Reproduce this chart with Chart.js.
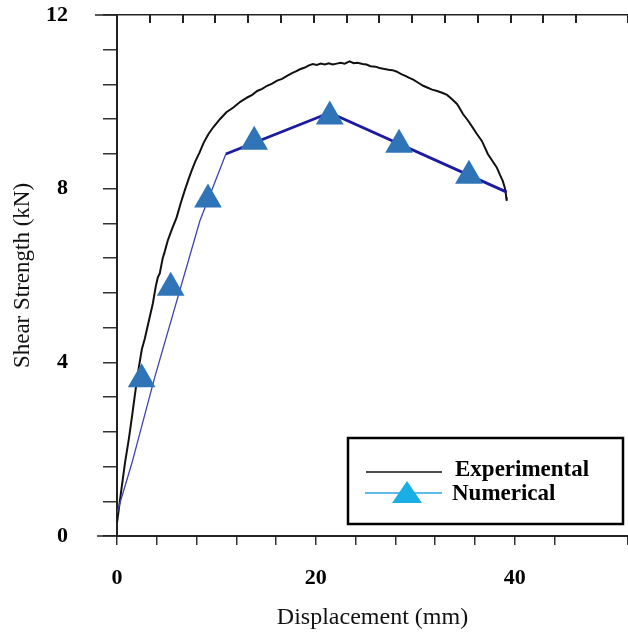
<!DOCTYPE html>
<html>
<head>
<meta charset="utf-8">
<script src="https://cdn.jsdelivr.net/npm/chart.js@4.4.1/dist/chart.umd.min.js"></script>
<style>
  html, body { margin: 0; padding: 0; background: #fff; overflow: hidden; }
  .chart-box { width: 628px; height: 637px; }
</style>
</head>
<body>
<div class="chart-box"><canvas id="shear-chart"></canvas></div>
<script>
// experimental curve (mm / kN)
const expDisp = [0.0, 0.4, 0.8, 1.2, 1.5, 1.8, 2.1, 2.5, 2.8, 3.2, 3.6, 3.9, 4.1, 4.3, 4.6, 4.8, 5.1, 5.5, 6.0, 6.4,
    6.8, 7.2, 7.5, 7.9, 8.3, 8.7, 9.2, 9.7, 10.35, 11.0, 11.7, 12.4, 13.1, 13.6, 14.1, 14.6, 15.1, 15.6, 16.1, 16.6,
    17.1, 17.6, 18.0, 18.4, 18.9, 19.3, 19.7, 20.1, 20.5, 20.9, 21.3, 21.7, 22.1, 22.5, 22.9, 23.4, 23.8, 24.2, 24.7, 25.1,
    25.5, 26.0, 26.4, 26.8, 27.3, 27.7, 28.1, 28.6, 29.0, 29.4, 29.8, 30.3, 30.8, 31.2, 31.7, 32.2, 32.7, 33.2, 33.7, 34.2,
    34.5, 34.8, 35.3, 35.8, 36.2, 36.7, 37.0, 37.3, 37.7, 38.2, 38.5, 38.8, 39.0, 39.1, 39.15, 39.2]
const expLoad = [0.30, 1.00, 1.68, 2.25, 2.74, 3.25, 3.75, 4.30, 4.55, 4.95, 5.35, 5.75, 5.95, 6.05, 6.40, 6.55, 6.80, 7.05, 7.34, 7.66,
    7.95, 8.22, 8.41, 8.64, 8.83, 9.05, 9.26, 9.42, 9.60, 9.76, 9.87, 10.00, 10.10, 10.16, 10.25, 10.30, 10.37, 10.42, 10.49, 10.53,
    10.60, 10.66, 10.70, 10.75, 10.79, 10.84, 10.87, 10.85, 10.88, 10.86, 10.89, 10.86, 10.88, 10.90, 10.88, 10.93, 10.89, 10.90, 10.87, 10.86,
    10.82, 10.81, 10.78, 10.76, 10.74, 10.73, 10.70, 10.64, 10.60, 10.55, 10.51, 10.44, 10.37, 10.33, 10.28, 10.25, 10.21, 10.16, 10.06, 9.95,
    9.84, 9.72, 9.57, 9.40, 9.26, 9.10, 8.95, 8.80, 8.66, 8.49, 8.33, 8.18, 8.03, 7.90, 7.80, 7.72]

// numerical model line
const numLineDisp = [0, 1.5, 3.8, 8.34, 10.95, 21.4, 39.2]
const numLineLoad = [0.53, 1.68, 3.66, 7.26, 8.8, 9.75, 7.92]

// numerical markers (triangles)
const numMarkDisp = [2.48, 5.4, 9.15, 13.8, 21.4, 28.37, 35.4]
const numMarkLoad = [3.61, 5.72, 7.75, 9.08, 9.66, 9.01, 8.30]

const xTickLabels = [0, 20, 40]
const yTickLabels = [0, 4, 8, 12]

const zip = (xs, ys) => xs.map((x, i) => ({ x: x, y: ys[i] }))
const near = (v, list) => list.some(t => Math.abs(v - t) < 1e-6)

const serif = "'Liberation Serif', 'Times New Roman', serif"

// fixed box sizes, no extra label padding
const fixSize = (w, h) => s => {
    if (w != null) s.width = w
    if (h != null) s.height = h
    s.paddingTop = 0
    s.paddingBottom = 0
    s.paddingLeft = 0
    s.paddingRight = 0
}

// legend box drawn inside the plot + axis lines running a bit past the y axis
const frameLegend = {
    id: 'frameLegend',
    afterDraw(chart) {
        const c = chart.ctx
        const area = chart.chartArea
        c.save()
        c.strokeStyle = '#222'
        c.lineWidth = 1.5
        c.beginPath()
        c.moveTo(area.left - 22, chart.scales.xTop.bottom)
        c.lineTo(area.left, chart.scales.xTop.bottom)
        c.moveTo(area.left - 20, chart.scales.x.top)
        c.lineTo(area.left, chart.scales.x.top)
        c.stroke()

        // legend
        c.lineWidth = 2.5
        c.strokeStyle = '#000'
        c.strokeRect(348, 438, 275, 86)

        c.lineWidth = 1.5
        c.strokeStyle = '#111'
        c.beginPath()
        c.moveTo(366, 472)
        c.lineTo(442, 472)
        c.stroke()

        c.strokeStyle = '#2aa6df'
        c.beginPath()
        c.moveTo(365, 493)
        c.lineTo(442, 493)
        c.stroke()

        c.fillStyle = '#19aee6'
        c.beginPath()
        c.moveTo(407, 481)
        c.lineTo(422, 503)
        c.lineTo(392, 503)
        c.closePath()
        c.fill()

        c.fillStyle = '#000'
        c.font = "bold 23px " + serif
        c.textBaseline = 'middle'
        c.textAlign = 'left'
        c.fillText('Experimental', 455, 470)
        c.fillText('Numerical', 452, 494)
        c.restore()
    }
}

new Chart(document.getElementById('shear-chart'), {
    type: 'scatter',
    data: {
        datasets: [
            {
                label: 'Numerical',
                data: zip(numMarkDisp, numMarkLoad),
                pointStyle: 'triangle',
                pointRadius: 16,
                pointHoverRadius: 16,
                backgroundColor: '#2e74b6',
                borderColor: '#2e74b6',
                borderWidth: 0,
                showLine: false
            },
            {
                label: 'Numerical line',
                data: zip(numLineDisp, numLineLoad),
                showLine: true,
                pointRadius: 0,
                borderColor: '#1d1da6',
                borderWidth: 2.6,
                segment: {
                    borderWidth: ctx => ctx.p1.parsed.x <= 11 ? 1.3 : 2.8,
                    borderColor: ctx => ctx.p1.parsed.x <= 11 ? '#4343ad' : '#1a1aa3'
                },
                tension: 0
            },
            {
                label: 'Experimental',
                data: zip(expDisp, expLoad),
                showLine: true,
                pointRadius: 0,
                borderColor: '#111',
                borderWidth: 2,
                tension: 0
            }
        ]
    },
    options: {
        responsive: true,
        maintainAspectRatio: false,
        animation: false,
        layout: { padding: 0, autoPadding: false },
        scales: {
            x: {
                type: 'linear',
                position: 'bottom',
                min: 0,
                max: 51.4,
                afterFit: fixSize(null, 101),
                border: { color: '#222', width: 2 },
                grid: { drawOnChartArea: false, tickLength: 9, color: '#333', lineWidth: 1.5 },
                ticks: {
                    stepSize: 4,
                    padding: 20,
                    color: '#000',
                    font: { family: serif, size: 22, weight: 'bold' },
                    callback: v => near(v, xTickLabels) ? String(Math.round(v)) : ''
                },
                title: {
                    display: true,
                    text: 'Displacement (mm)',
                    color: '#111',
                    font: { family: serif, size: 24 },
                    padding: { top: 0, bottom: 5 }
                }
            },
            xTop: {
                type: 'linear',
                position: 'top',
                min: 0,
                max: 51.4,
                afterFit: fixSize(null, 15),
                border: { color: '#222', width: 1.5 },
                grid: { drawOnChartArea: false, tickLength: -8, color: '#222', lineWidth: 2 },
                ticks: { stepSize: 3.3, display: false }
            },
            y: {
                type: 'linear',
                min: 0,
                max: 12,
                afterFit: fixSize(117, null),
                border: { color: '#222', width: 2 },
                grid: { drawOnChartArea: false, tickLength: 14, color: '#333', lineWidth: 1.5 },
                ticks: {
                    stepSize: 0.8,
                    padding: 35,
                    color: '#000',
                    font: { family: serif, size: 22, weight: 'bold' },
                    callback: v => near(v, yTickLabels) ? String(Math.round(v)) : ''
                },
                title: {
                    display: true,
                    text: 'Shear Strength (kN)',
                    color: '#111',
                    font: { family: serif, size: 23 },
                    padding: { top: 9, bottom: 0 }
                }
            }
        },
        plugins: {
            legend: { display: false },
            tooltip: { enabled: false }
        }
    },
    plugins: [frameLegend]
});
</script>
</body>
</html>
